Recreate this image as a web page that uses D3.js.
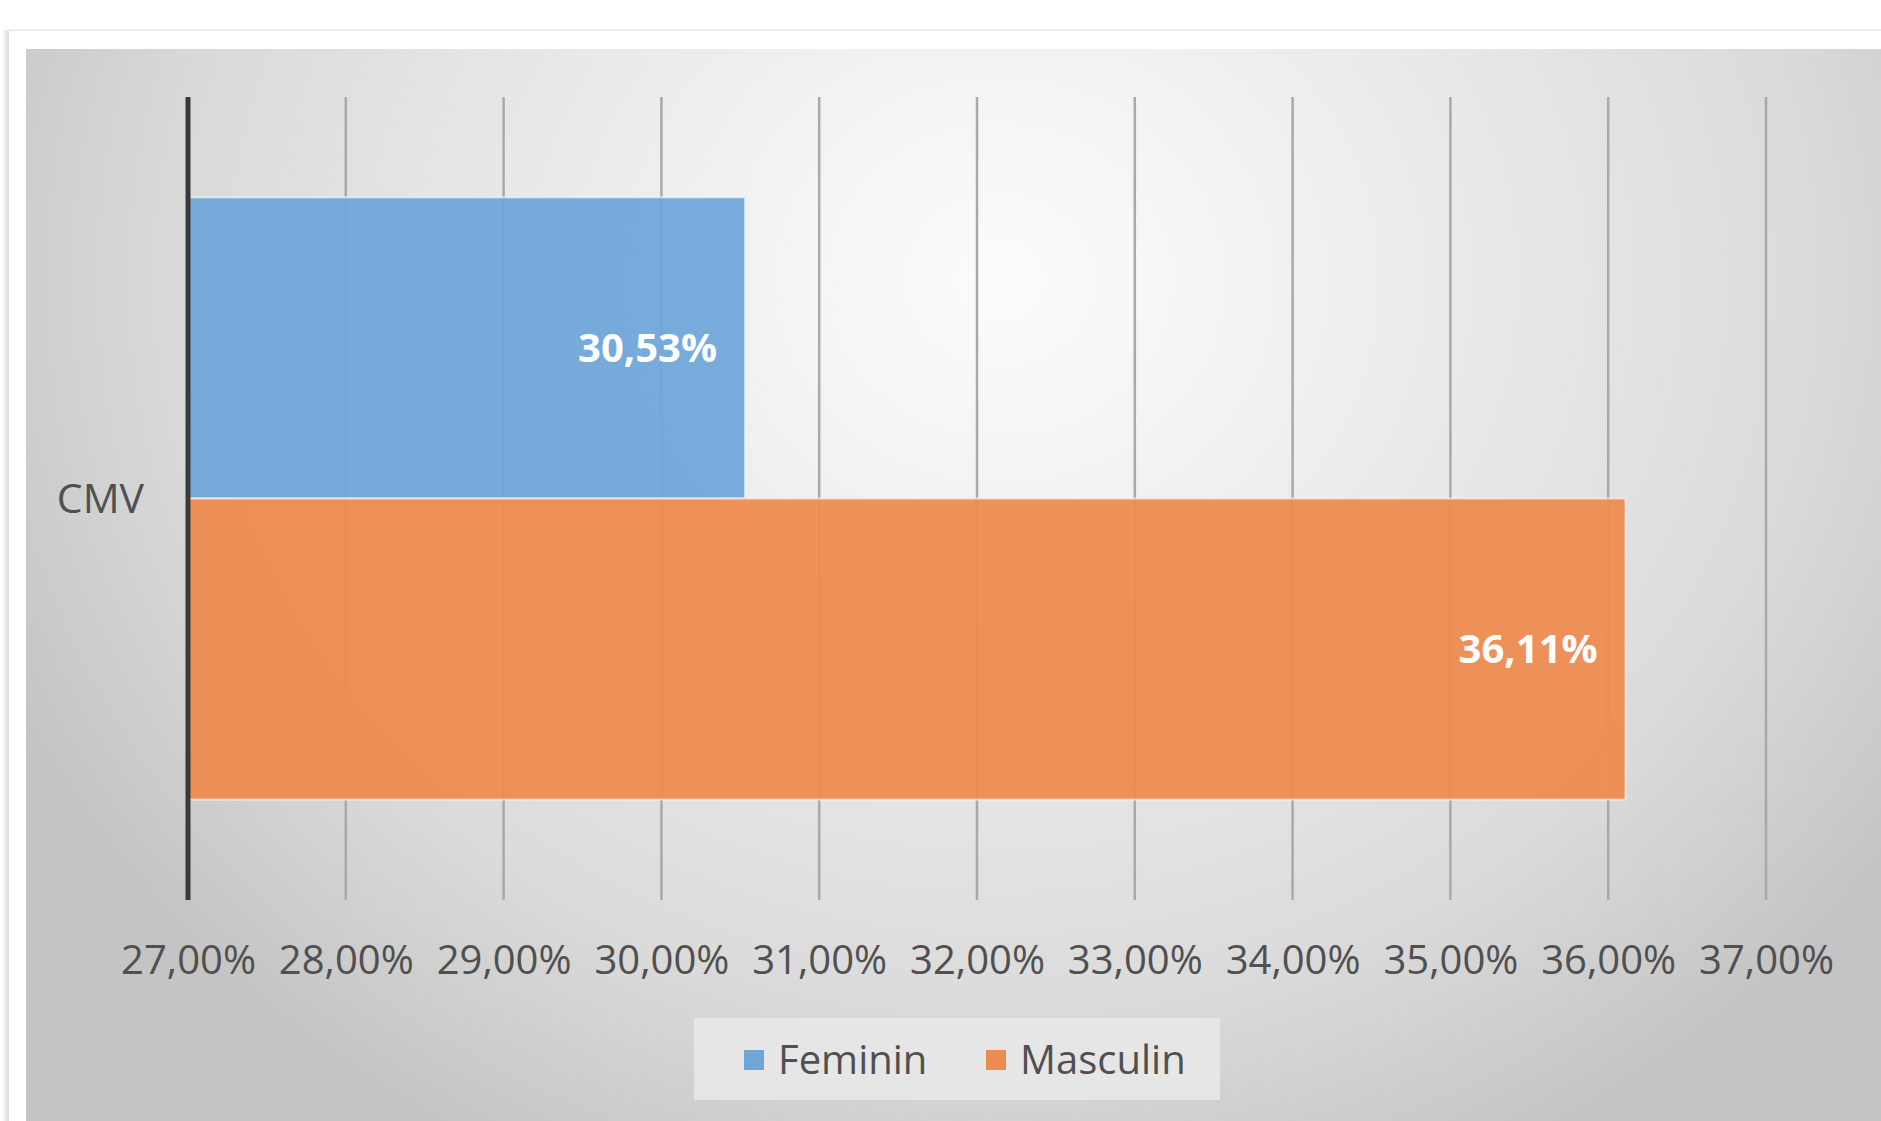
<!DOCTYPE html>
<html>
<head>
<meta charset="utf-8">
<script src="https://cdn.jsdelivr.net/npm/d3@7"></script>
<style>
html,body{margin:0;padding:0;background:#fff;}
svg{display:block;}
text{font-family:"Open Sans","Noto Sans",sans-serif;}
</style>
</head>
<body>
<svg id="chart" width="1881" height="1121"></svg>
<script>
const categories = ["CMV"];
const seriesNames = ["Feminin", "Masculin"];
const feminin = [30.53];
const masculin = [36.11];
const tickValues = [27, 28, 29, 30, 31, 32, 33, 34, 35, 36, 37];
const seriesColors = ["#6fa6da", "#ed8c50"];

const seriesValues = [feminin, masculin];
const W = 1881, H = 1121;
const svg = d3.select("#chart");
const defs = svg.append("defs");

// background
svg.append("rect").attr("x", 0).attr("y", 0).attr("width", W).attr("height", H).attr("fill", "#ffffff");
const sh = defs.append("linearGradient").attr("id", "shadowL").attr("x1", 0).attr("x2", 1).attr("y1", 0).attr("y2", 0);
sh.append("stop").attr("offset", 0).attr("stop-color", "#ffffff");
sh.append("stop").attr("offset", 1).attr("stop-color", "#d8d8d8");
svg.append("rect").attr("x", 2).attr("y", 30).attr("width", 7).attr("height", H - 30).attr("fill", "url(#shadowL)");
svg.append("line").attr("x1", 8).attr("x2", W).attr("y1", 30.5).attr("y2", 30.5).attr("stroke", "#e6e6e6").attr("stroke-width", 2);
svg.append("rect").attr("x", 9).attr("y", 31).attr("width", W - 9).attr("height", H - 31).attr("fill", "#ffffff");

const rg = defs.append("radialGradient").attr("id", "plotBg")
  .attr("gradientUnits", "userSpaceOnUse")
  .attr("cx", 1000).attr("cy", 280).attr("r", 1100)
  .attr("gradientTransform", "translate(1000,280) scale(1,0.9) translate(-1000,-280)");
rg.append("stop").attr("offset", 0).attr("stop-color", "#fcfcfc");
rg.append("stop").attr("offset", 0.35).attr("stop-color", "#ededed");
rg.append("stop").attr("offset", 0.75).attr("stop-color", "#dadada");
rg.append("stop").attr("offset", 1).attr("stop-color", "#c4c4c4");
svg.append("rect").attr("x", 26).attr("y", 49).attr("width", W - 26).attr("height", H - 49).attr("fill", "url(#plotBg)");

// scales
const x = d3.scaleLinear().domain([27, 37]).range([188, 1766]);
const yCat = d3.scaleBand().domain(categories).range([97, 900]).paddingInner(0.25).paddingOuter(0.125);
const ySer = d3.scaleBand().domain(seriesNames).range([0, yCat.bandwidth()]).padding(0);

const loc = d3.formatLocale({decimal: ",", thousands: ".", grouping: [3], currency: ["", "€"]});
const f2 = loc.format(".2f");
const pct = v => f2(v) + "%";

// gridlines
svg.append("g").selectAll("line").data(tickValues.slice(1)).join("line")
  .attr("x1", d => x(d)).attr("x2", d => x(d))
  .attr("y1", 97).attr("y2", 900)
  .attr("stroke", "#a9a9a9").attr("stroke-width", 2.5);

// bars
const barData = [];
categories.forEach((c, ci) => {
  seriesNames.forEach((s, si) => {
    barData.push({cat: c, series: s, value: seriesValues[si][ci], color: seriesColors[si]});
  });
});
const gBars = svg.append("g");
gBars.selectAll("rect").data(barData).join("rect")
  .attr("x", x(27))
  .attr("y", d => yCat(d.cat) + ySer(d.series))
  .attr("width", d => x(d.value) - x(27))
  .attr("height", ySer.bandwidth())
  .attr("fill", d => d.color)
  .attr("fill-opacity", 0.95)
  .attr("stroke", "#f4f4f4").attr("stroke-opacity", 0.7).attr("stroke-width", 2);

// data labels
gBars.selectAll("text").data(barData).join("text")
  .attr("x", d => x(d.value) - 28)
  .attr("y", d => yCat(d.cat) + ySer(d.series) + ySer.bandwidth() / 2)
  .attr("dy", "0.36em")
  .attr("text-anchor", "end")
  .attr("font-size", 40).attr("font-weight", 700)
  .attr("fill", "#ffffff")
  .text(d => pct(d.value));

// value axis (bottom)
const xAxis = d3.axisBottom(x).tickValues(tickValues).tickFormat(pct).tickSize(0).tickPadding(0);
const gx = svg.append("g").attr("transform", "translate(0,960)").call(xAxis);
gx.select(".domain").remove();
gx.selectAll("text").attr("font-size", 40).attr("fill", "#505050").attr("font-weight", 500).attr("dy", "0.36em")
  .style("font-family", '"Open Sans","Noto Sans",sans-serif');

// category axis (left)
svg.append("line").attr("x1", x(27)).attr("x2", x(27)).attr("y1", 97).attr("y2", 900)
  .attr("stroke", "#3a3a3a").attr("stroke-width", 5);
const yAxis = d3.axisLeft(yCat).tickSize(0).tickPadding(44);
const gy = svg.append("g").attr("transform", `translate(${x(27)},0)`).call(yAxis);
gy.select(".domain").remove();
gy.selectAll("text").attr("font-size", 41).attr("fill", "#505050").attr("font-weight", 500).attr("dy", "0.36em")
  .style("font-family", '"Open Sans","Noto Sans",sans-serif');

// legend
const lg = svg.append("g");
lg.append("rect").attr("x", 694).attr("y", 1018).attr("width", 526).attr("height", 82)
  .attr("fill", "#e9e9e9").attr("fill-opacity", 0.85);
const legendX = [744, 986];
const items = lg.selectAll("g").data(seriesNames).join("g")
  .attr("transform", (d, i) => `translate(${legendX[i]},1060)`);
items.append("rect").attr("x", 0).attr("y", -10).attr("width", 20).attr("height", 20)
  .attr("fill", (d, i) => seriesColors[i]);
items.append("text").attr("x", 34).attr("y", 0).attr("dy", "0.36em")
  .attr("font-size", 40).attr("font-weight", 500).attr("fill", "#505050").text(d => d);
</script>
</body>
</html>
